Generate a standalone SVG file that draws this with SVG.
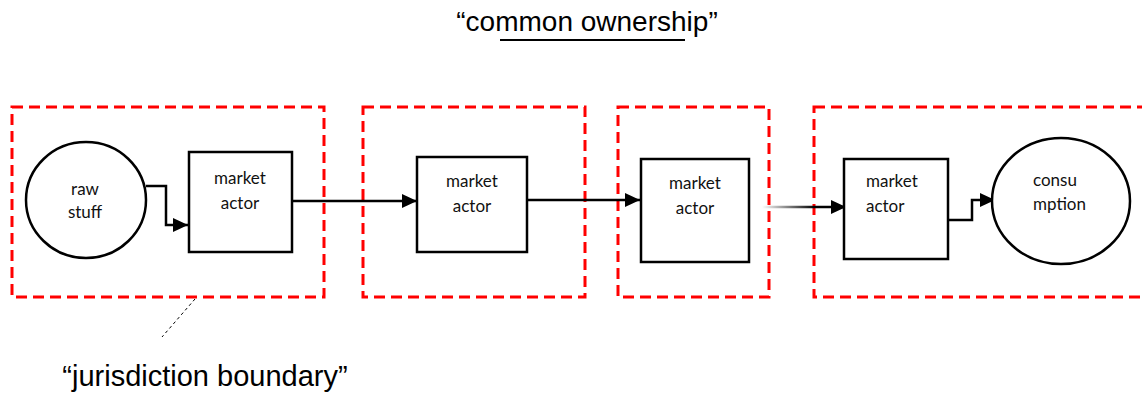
<svg xmlns="http://www.w3.org/2000/svg" width="1142" height="393" viewBox="0 0 1142 393">
  <style>
    .zone { fill: none; stroke: #ff0000; stroke-width: 3; stroke-dasharray: 11 6; }
    .node { fill: #ffffff; stroke: #000000; stroke-width: 2.5; }
    .lbl { font-family: Lato, "Liberation Sans", sans-serif; font-size: 17px; fill: #111111; text-anchor: middle; }
    .lbl-l { font-family: Lato, "Liberation Sans", sans-serif; font-size: 17px; fill: #111111; text-anchor: start; }
    .title { font-family: "Liberation Sans", Arial, sans-serif; font-size: 28px; fill: #000000; text-anchor: middle; }
    .edge { fill: none; stroke: #000000; stroke-width: 2.5; }
  </style>
  <defs>
    <marker id="arrow" markerUnits="userSpaceOnUse" markerWidth="16" markerHeight="16" viewBox="0 0 16 16" refX="15" refY="8" orient="auto">
      <path d="M0,1 L15,8 L0,15 Z" fill="#000000"/>
    </marker>
    <linearGradient id="fade" gradientUnits="userSpaceOnUse" x1="762" y1="0" x2="815" y2="0">
      <stop offset="0" stop-color="#000000" stop-opacity="0"/>
      <stop offset="1" stop-color="#000000" stop-opacity="1"/>
    </linearGradient>
  </defs>
  <rect width="1142" height="393" fill="#ffffff"/>

  <!-- jurisdiction zones -->
  <g id="zones">
    <rect class="zone" x="12" y="107" width="312" height="190"/>
    <rect class="zone" x="363" y="107" width="222" height="190"/>
    <rect class="zone" x="618" y="107" width="151" height="190"/>
    <rect class="zone" x="814" y="107" width="340" height="190"/>
  </g>

  <!-- connectors -->
  <g id="connectors">
    <polyline class="edge" points="146,186 166,186 166,225 188,225" marker-end="url(#arrow)"/>
    <line class="edge" x1="292" y1="201" x2="417" y2="201" marker-end="url(#arrow)"/>
    <line class="edge" x1="527" y1="200" x2="640" y2="200" marker-end="url(#arrow)"/>
    <line x1="762" y1="207" x2="846" y2="207" stroke="url(#fade)" stroke-width="2.5" marker-end="url(#arrow)"/>
    <polyline class="edge" points="948,220 972,220 972,200 995,200" marker-end="url(#arrow)"/>
    <line x1="195" y1="299" x2="162" y2="337" stroke="#000000" stroke-width="1" stroke-dasharray="3 3"/>
  </g>

  <g id="raw-stuff">
    <ellipse class="node" cx="86" cy="200" rx="60" ry="58"/>
    <text class="lbl" x="85" y="195">raw</text>
    <text class="lbl" x="85" y="218">stuff</text>
  </g>

  <g id="actor-1">
    <rect class="node" x="189" y="152" width="103" height="100"/>
    <text class="lbl" x="240" y="184">market</text>
    <text class="lbl" x="240" y="209">actor</text>
  </g>

  <g id="actor-2">
    <rect class="node" x="417" y="157" width="110" height="95"/>
    <text class="lbl" x="472" y="187">market</text>
    <text class="lbl" x="472" y="212">actor</text>
  </g>

  <g id="actor-3">
    <rect class="node" x="641" y="159" width="108" height="103"/>
    <text class="lbl" x="695" y="189">market</text>
    <text class="lbl" x="695" y="214">actor</text>
  </g>

  <g id="actor-4">
    <rect class="node" x="844" y="159" width="104" height="100"/>
    <text class="lbl-l" x="866" y="187">market</text>
    <text class="lbl-l" x="866" y="212">actor</text>
  </g>

  <g id="consumption">
    <ellipse class="node" cx="1061" cy="201" rx="69" ry="63"/>
    <text class="lbl-l" x="1033" y="186">consu</text>
    <text class="lbl-l" x="1033" y="210">mption</text>
  </g>

  <!-- captions -->
  <g id="common-ownership">
    <text class="title" x="587" y="31">“common ownership”</text>
    <line x1="500" y1="40" x2="685" y2="40" stroke="#000000" stroke-width="2"/>
  </g>
  <g id="jurisdiction-boundary">
    <text class="title" x="205" y="386" style="font-size:29px">“jurisdiction boundary”</text>
  </g>
</svg>
